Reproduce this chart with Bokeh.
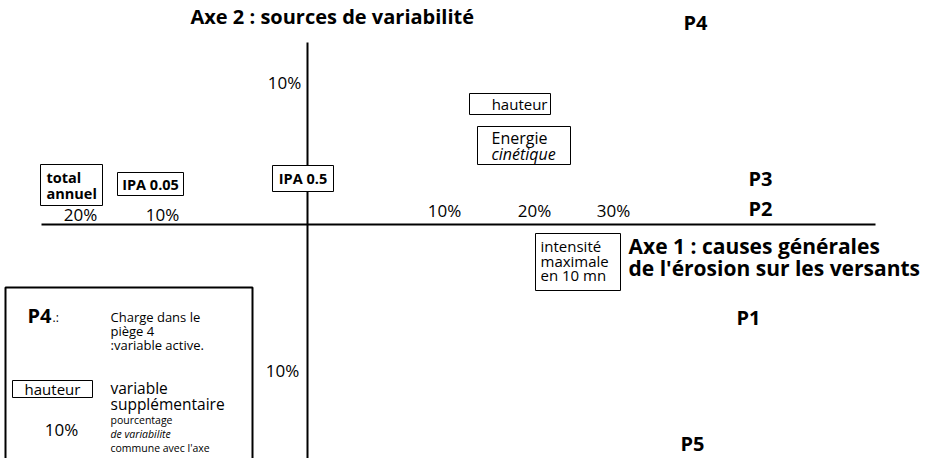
from bokeh.plotting import figure
from bokeh.models import Range1d
from bokeh.core.properties import value
from bokeh.embed import file_html
from bokeh.resources import INLINE

FONT = "Open Sans"

# ---- data: factor plane (axis 1 horizontal, axis 2 vertical), origin at 0 ----
axis2_title = "Axe 2 : sources de variabilité"
axis1_title = ["Axe 1 : causes générales", "de l'érosion sur les versants"]

# active variables (charge in each trap)
active_names = ["P1", "P2", "P3", "P4", "P5"]
active_x = [441, 453, 453, 388, 385]
active_y = [-93, 16, 46, 202, -219]

# supplementary variables
supp_names = ["total annuel", "IPA 0.05", "IPA 0.5", "hauteur", "Energie cinétique",
              "intensité maximale en 10 mn"]
supp_x = [-236, -157, -4.5, 202.5, 216.5, 270.5]
supp_y = [39.5, 40.5, 46, 120.5, 79, -37.5]

# percentage of variability shared with each axis
axis1_pct_labels = ["20%", "10%", "10%", "20%", "30%"]
axis1_pct_x = [-227, -145, 137, 227, 306]
axis2_pct_labels = ["10%", "10%"]
axis2_pct_y = [142, -146]

# legend texts
legend_active = "P4"
legend_active_text = ["Charge dans le", "piège 4", ":variable active."]
legend_supp = "hauteur"
legend_supp_text = ["variable", "supplémentaire"]
legend_pct = "10%"
legend_pct_text = ["pourcentage", "de variabilite", "commune avec l'axe"]

# ---- figure ----
p = figure(width=935, height=458, x_range=Range1d(-307, 628), y_range=Range1d(-234, 224),
           output_backend="svg", toolbar_location=None, min_border=0)
p.axis.visible = False
p.grid.visible = False
p.outline_line_color = None
p.background_fill_color = "white"


def txt(xs, ys, texts, size, style="normal", align="center", baseline="middle"):
    p.text(x=xs, y=ys, text=texts, text_font=value(FONT),
           text_font_size=value(f"{size}px"), text_font_style=style,
           text_align=align, text_baseline=baseline, text_color="black")


# axes
p.segment(x0=[-266, 0], y0=[0, 182], x1=[568, 0], y1=[0, -250],
          line_color="black", line_width=2)

# axis titles
txt([-117], [208], [axis2_title], 20, "bold", "left")
txt([321, 321], [-21, -43], axis1_title, 21, "bold", "left")

# active variables
txt(active_x, active_y, active_names, 20, "bold")

# supplementary variables: boxes (white fill hides the axis behind)
box_w = [62, 66, 61, 81, 93, 85]
box_h = [41, 23, 26, 21, 38, 57]
p.rect(x=supp_x, y=supp_y, width=box_w, height=box_h, fill_color="white",
       line_color="black", line_width=1)

# total annuel
t = supp_names[0].split(" ")
txt([supp_x[0] - 25] * 2, [supp_y[0] + 8, supp_y[0] - 8], t, 14.5, "bold", "left")
# IPA 0.05, IPA 0.5
txt([supp_x[1], supp_x[2]], [supp_y[1], supp_y[2]], [supp_names[1], supp_names[2]], 14.5, "bold")
# hauteur
txt([supp_x[3] + 37.5], [supp_y[3]], [supp_names[3]], 15, "normal", "right")
# Energie cinétique
e = supp_names[4].split(" ")
txt([supp_x[4] - 32.5], [supp_y[4] + 8], [e[0]], 16, "normal", "left")
txt([supp_x[4] - 32.5], [supp_y[4] - 8], [e[1]], 16, "italic", "left")
# intensité maximale en 10 mn
im = ["intensité", "maximale", "en 10 mn"]
txt([supp_x[5] - 37.5] * 3, [supp_y[5] + 16.5, supp_y[5] + 1.5, supp_y[5] - 12.5], im, 15,
    "normal", "left")

# percentages
txt(axis1_pct_x[:2], [10, 10], axis1_pct_labels[:2], 17)
txt(axis1_pct_x[2:], [14, 14, 14], axis1_pct_labels[2:], 17)
txt([-23, -25], axis2_pct_y, axis2_pct_labels, 17)

# ---- legend ----
p.line(x=[-302, -302, -55, -55], y=[-250, -63, -63, -250], line_color="black", line_width=2)
txt([-280], [-91], [legend_active], 20, "bold", "left")
txt([-255], [-93], [".:"], 12, "normal", "left")
txt([-197] * 3, [-92, -106, -120], legend_active_text, 13, "normal", "left")
p.rect(x=[-255], y=[-164.5], width=[80], height=[17], fill_color=None,
       line_color="black", line_width=1)
txt([-255], [-164], [legend_supp], 15, "normal")
txt([-197] * 2, [-163, -179], legend_supp_text, 15.5, "normal", "left")
txt([-246], [-205], [legend_pct], 17, "normal")
txt([-197], [-195], [legend_pct_text[0]], 10.5, "normal", "left")
txt([-197], [-209], [legend_pct_text[1]], 10.5, "italic", "left")
txt([-197], [-223], [legend_pct_text[2]], 10.5, "normal", "left")

open("out.html", "w").write(file_html(p, INLINE))
